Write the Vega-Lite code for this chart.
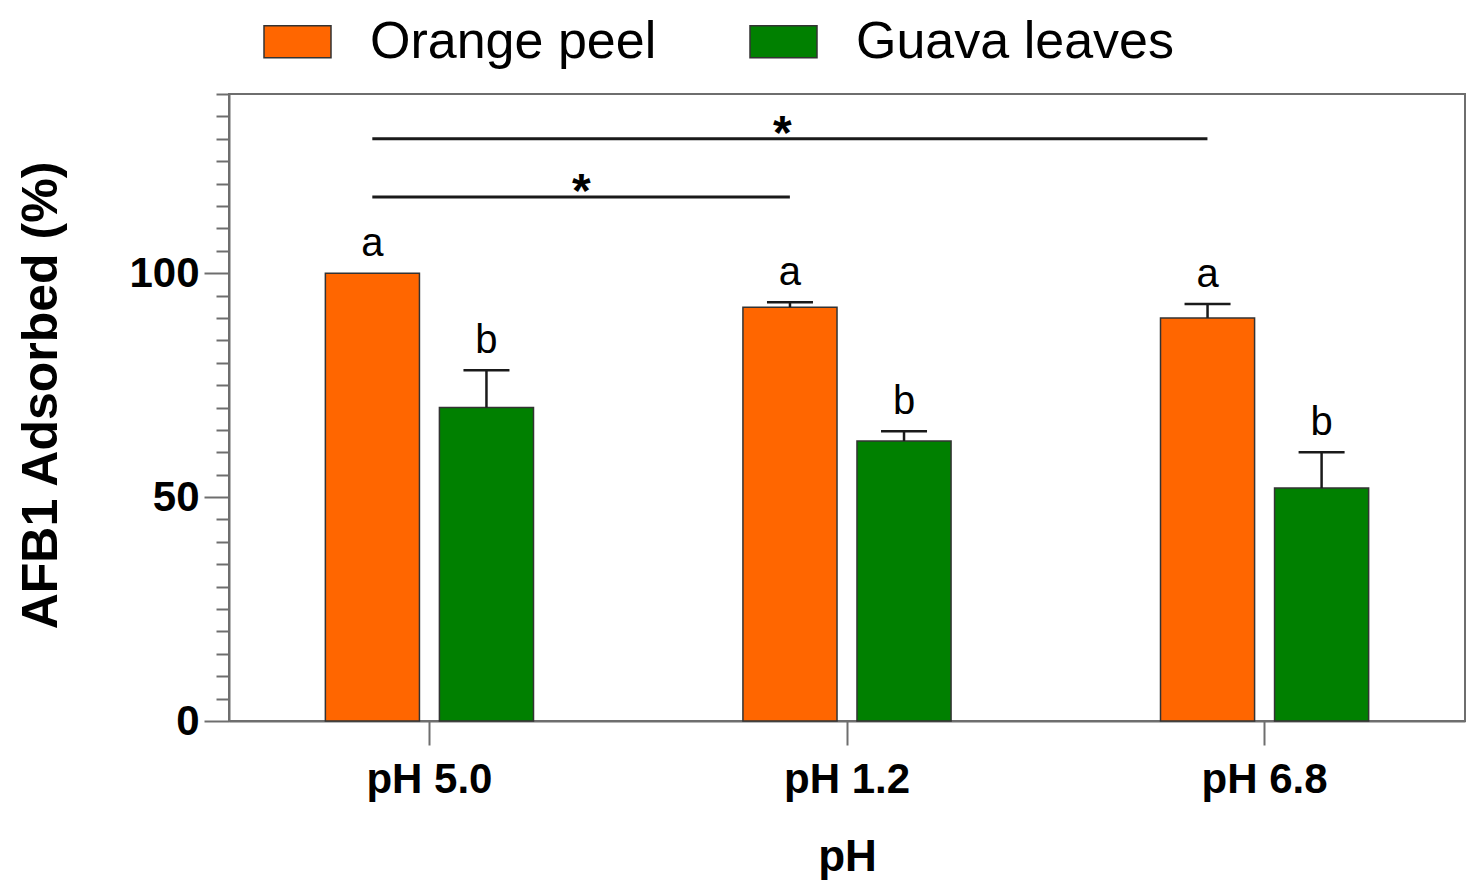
{
  "$schema": "https://vega.github.io/schema/vega-lite/v6.json",
  "width": 1236,
  "height": 627,
  "autosize": "none",
  "padding": {"left": 229, "top": 94, "right": 15, "bottom": 175},
  "background": "#ffffff",
  "view": {"stroke": "#6e6e6e", "strokeWidth": 2},
  "config": {
    "font": "Liberation Sans",
    "axis": {"grid": false, "domainColor": "#6e6e6e", "domainWidth": 2, "tickColor": "#6e6e6e", "tickWidth": 2, "labelColor": "#000000", "titleColor": "#000000"}
  },
  "datasets": {
    "bars": [
      {"ph": "pH 5.0", "material": "Orange peel", "value": 100, "upper": 100, "letter": "a"},
      {"ph": "pH 5.0", "material": "Guava leaves", "value": 70, "upper": 78.3, "letter": "b"},
      {"ph": "pH 1.2", "material": "Orange peel", "value": 92.4, "upper": 93.5, "letter": "a"},
      {"ph": "pH 1.2", "material": "Guava leaves", "value": 62.5, "upper": 64.7, "letter": "b"},
      {"ph": "pH 6.8", "material": "Orange peel", "value": 90, "upper": 93.1, "letter": "a"},
      {"ph": "pH 6.8", "material": "Guava leaves", "value": 52, "upper": 60, "letter": "b"}
    ],
    "sig": [
      {"from": "pH 5.0", "to": "pH 1.2", "y": 117, "mark": "*"},
      {"from": "pH 5.0", "to": "pH 6.8", "y": 130, "mark": "*"}
    ]
  },
  "layer": [
    {
      "data": {"name": "bars"},
      "mark": {"type": "bar", "stroke": "#333333", "strokeWidth": 1.5},
      "encoding": {
        "x": {
          "field": "ph",
          "type": "nominal",
          "sort": ["pH 5.0", "pH 1.2", "pH 6.8"],
          "scale": {"domain": ["pH 5.0", "pH 1.2", "pH 6.8"], "paddingInner": 0.2, "paddingOuter": 0.08},
          "axis": {
            "title": "pH",
            "titleFontSize": 44,
            "titleFontWeight": "bold",
            "titleY": 149,
            "titleBaseline": "alphabetic",
            "labelAngle": 0,
            "labelFontSize": 42,
            "labelFontWeight": "bold",
            "labelBaseline": "alphabetic",
            "labelPadding": 47,
            "tickSize": 24
          }
        },
        "xOffset": {
          "field": "material",
          "type": "nominal",
          "sort": ["Orange peel", "Guava leaves"],
          "scale": {"domain": ["Orange peel", "Guava leaves"], "paddingInner": 0.175, "paddingOuter": 0.552}
        },
        "y": {
          "field": "value",
          "type": "quantitative",
          "scale": {"domain": [0, 140], "nice": false},
          "axis": {
            "title": "AFB1 Adsorbed (%)",
            "titleFontSize": 50,
            "titleFontWeight": "bold",
            "titleX": -188,
            "titleY": 301,
            "titleAngle": -90,
            "titleAlign": "center",
            "titleBaseline": "middle",
            "values": [0, 5, 10, 15, 20, 25, 30, 35, 40, 45, 50, 55, 60, 65, 70, 75, 80, 85, 90, 95, 100, 105, 110, 115, 120, 125, 130, 135, 140],
            "tickCount": 40,
            "labelExpr": "datum.value % 50 === 0 ? datum.label : ''",
            "labelOverlap": false,
            "labelBound": false,
            "tickSize": {"condition": {"test": "datum.value % 50 === 0", "value": 25}, "value": 13},
            "labelFontSize": 42,
            "labelFontWeight": "bold",
            "labelPadding": 5
          }
        },
        "color": {
          "field": "material",
          "type": "nominal",
          "scale": {"domain": ["Orange peel", "Guava leaves"], "range": ["#ff6600", "#008000"]},
          "legend": {
            "orient": "none",
            "legendX": 34,
            "legendY": -87,
            "direction": "horizontal",
            "title": null,
            "padding": 0,
            "symbolType": "M-1,-0.48H1V0.48H-1Z",
            "symbolSize": 4489,
            "symbolStrokeColor": "#333333",
            "symbolStrokeWidth": 1.5,
            "symbolOpacity": 1,
            "labelFontSize": 52,
            "labelLimit": 0,
            "labelColor": "#000000",
            "labelOffset": 38,
            "columnPadding": 90
          }
        }
      }
    },
    {
      "data": {"name": "bars"},
      "transform": [{"filter": "datum.upper > datum.value"}],
      "mark": {"type": "rule", "color": "#1a1a1a", "strokeWidth": 2.5},
      "encoding": {
        "x": {"field": "ph", "type": "nominal"},
        "xOffset": {"field": "material", "type": "nominal"},
        "y": {"field": "value", "type": "quantitative"},
        "y2": {"field": "upper"}
      }
    },
    {
      "data": {"name": "bars"},
      "transform": [{"filter": "datum.upper > datum.value"}],
      "mark": {"type": "tick", "color": "#1a1a1a", "size": 46, "thickness": 2.5, "orient": "horizontal", "opacity": 1},
      "encoding": {
        "x": {"field": "ph", "type": "nominal"},
        "xOffset": {"field": "material", "type": "nominal"},
        "y": {"field": "upper", "type": "quantitative"}
      }
    },
    {
      "data": {"name": "bars"},
      "mark": {"type": "text", "fontSize": 40, "baseline": "alphabetic", "dy": -17, "color": "#000000"},
      "encoding": {
        "x": {"field": "ph", "type": "nominal"},
        "xOffset": {"field": "material", "type": "nominal"},
        "y": {"field": "upper", "type": "quantitative"},
        "text": {"field": "letter"}
      }
    },
    {
      "data": {"name": "sig"},
      "mark": {"type": "rule", "color": "#1a1a1a", "strokeWidth": 3},
      "encoding": {
        "x": {"field": "from", "type": "nominal", "bandPosition": 0.329},
        "x2": {"field": "to", "bandPosition": 0.329},
        "y": {"field": "y", "type": "quantitative"}
      }
    },
    {
      "data": {"name": "sig"},
      "transform": [{"filter": "datum.y < 125"}],
      "mark": {"type": "text", "fontSize": 48, "fontWeight": "bold", "baseline": "alphabetic", "dy": 10, "dx": 209, "color": "#000000"},
      "encoding": {
        "x": {"field": "from", "type": "nominal", "bandPosition": 0.329},
        "y": {"field": "y", "type": "quantitative"},
        "text": {"field": "mark"}
      }
    },
    {
      "data": {"name": "sig"},
      "transform": [{"filter": "datum.y > 125"}],
      "mark": {"type": "text", "fontSize": 48, "fontWeight": "bold", "baseline": "alphabetic", "dy": 10, "dx": 410, "color": "#000000"},
      "encoding": {
        "x": {"field": "from", "type": "nominal", "bandPosition": 0.329},
        "y": {"field": "y", "type": "quantitative"},
        "text": {"field": "mark"}
      }
    }
  ]
}
